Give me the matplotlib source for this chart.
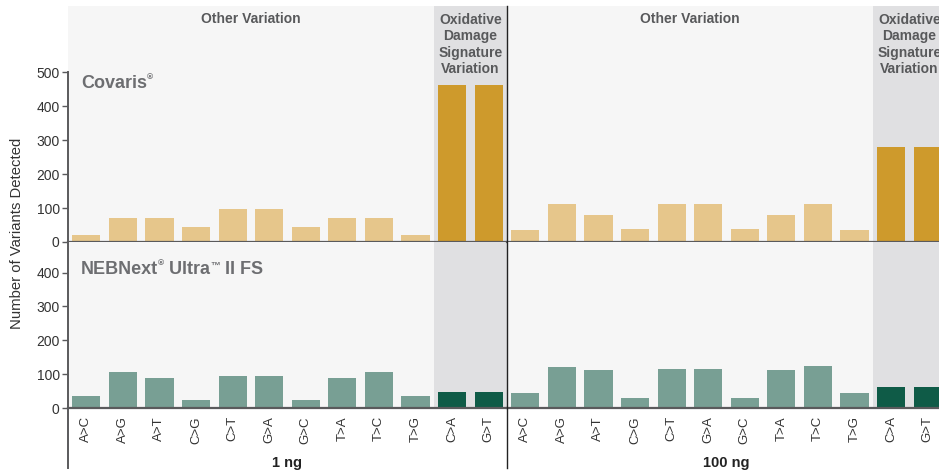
import matplotlib
matplotlib.use("Agg")
import matplotlib.pyplot as plt
from matplotlib.lines import Line2D
import numpy as np

plt.rcParams['font.family'] = ['Liberation Sans', 'DejaVu Sans']

categories = ["A>C", "A>G", "A>T", "C>G", "C>T", "G>A", "G>C", "T>A", "T>C", "T>G", "C>A", "G>T"]
covaris_1ng = [21, 71, 71, 45, 98, 98, 45, 71, 71, 21, 462, 462]
covaris_100ng = [36, 112, 80, 39, 112, 112, 39, 80, 112, 36, 280, 280]
neb_1ng = [34, 105, 88, 23, 96, 94, 23, 88, 105, 34, 46, 46]
neb_100ng = [43, 120, 111, 29, 114, 114, 29, 111, 123, 43, 61, 61]
input_labels = ["1 ng", "100 ng"]
top_ticks = [0, 100, 200, 300, 400, 500]
bottom_ticks = [0, 100, 200, 300, 400]

W, H = 939, 472
fig = plt.figure(figsize=(W / 100, H / 100), dpi=100)

def fx(px):
    return px / W

def fy(py):
    return 1 - py / H

x_left, x_mid, x_right = 68, 507, 946
y_top, y_mid, y_bot = 6, 242, 408
top_ylim = (y_mid - y_top) / 0.34
bot_ylim = (y_bot - y_mid) / 0.3385

light_bg = "#F6F6F6"
gray_bg = "#E0E0E2"
gold_light = "#E6C68B"
gold_dark = "#CE9A2C"
teal_light = "#789F94"
teal_dark = "#0F5B47"
axis_col = "#5A5A5C"
head_col = "#58595B"
brand_col = "#6D6E71"
tick_col = "#333333"

x = np.arange(len(categories))
bar_colors_top = [gold_light] * 10 + [gold_dark] * 2
bar_colors_bot = [teal_light] * 10 + [teal_dark] * 2

panels = [
    (x_left, covaris_1ng, neb_1ng),
    (x_mid, covaris_100ng, neb_100ng),
]

for i, (x0, top_vals, bot_vals) in enumerate(panels):
    w = fx(439)
    ax_t = fig.add_axes([fx(x0), fy(y_mid), w, (y_mid - y_top) / H])
    ax_b = fig.add_axes([fx(x0), fy(y_bot), w, (y_bot - y_mid) / H])
    for ax, vals, cols, ylim in ((ax_t, top_vals, bar_colors_top, top_ylim),
                                 (ax_b, bot_vals, bar_colors_bot, bot_ylim)):
        ax.set_facecolor(light_bg)
        ax.axvspan(9.5, 11.5, color=gray_bg, zorder=0, lw=0)
        ax.bar(x, vals, width=0.77, color=cols, zorder=2)
        ax.set_xlim(-0.5, 11.5)
        ax.set_ylim(0, ylim)
        ax.axhline(0, color=axis_col, lw=1.6, zorder=3, clip_on=False)
        for s in ("top", "right", "bottom"):
            ax.spines[s].set_visible(False)
        ax.set_xticks([])
        if i == 0:
            ax.spines["left"].set_color(axis_col)
            ax.spines["left"].set_linewidth(1.4)
            ax.tick_params(axis="y", direction="out", length=4, width=1.0,
                           color=axis_col, labelsize=10, labelcolor=tick_col, pad=2)
        else:
            ax.spines["left"].set_visible(False)
            ax.set_yticks([])
    if i == 0:
        ax_t.set_yticks(top_ticks)
        ax_t.spines["left"].set_bounds(0, 500)
        ax_b.set_yticks(bottom_ticks)
    for j, c in enumerate(categories):
        xp = ax_b.transData.transform((j, 0))[0]
        fig.text(xp / W, fy(416), c, rotation=90, ha="center", va="top",
                 fontsize=9.5, color=tick_col)
    fig.text(fx(x0 + 439 / 2), fy(463), input_labels[i],
             ha="center", va="center", fontsize=10.5, fontweight="bold", color="#222222")
    xo = ax_t.transData.transform((4.5, 0))[0]
    fig.text(xo / W, fy(19), "Other Variation", ha="center", va="center",
             fontsize=10, fontweight="bold", color=head_col)
    xd = ax_t.transData.transform((10.5, 0))[0]
    fig.text(xd / W, fy(44.5), "Oxidative\nDamage\nSignature\nVariation", ha="center",
             va="center", fontsize=10, fontweight="bold", color=head_col,
             linespacing=1.2)

fig.add_artist(Line2D([fx(x_left), fx(x_left)], [fy(y_bot), fy(468)], color=axis_col, lw=1.4))
fig.add_artist(Line2D([fx(x_mid), fx(x_mid)], [fy(y_top), fy(468)], color="#222222", lw=1.0))

fig.text(fx(17), fy(233), "Number of Variants Detected", rotation=90, ha="center",
         va="center", fontsize=10.7, color=tick_col)

fig.canvas.draw()
renderer = fig.canvas.get_renderer()

def chain(px, py, parts):
    cur = px / W
    for s, size, dy in parts:
        t = fig.text(cur, fy(py - dy), s, ha="left", va="baseline", fontsize=size,
                     fontweight="bold", color=brand_col)
        bb = t.get_window_extent(renderer=renderer)
        cur = bb.x1 / W

chain(81, 88, [("Covaris", 13, 0), ("®", 6, 9)])
chain(81, 274, [("NEBNext", 13, 0), ("®", 6, 9), (" Ultra", 13, 0), ("™", 7, 5), (" II FS", 13, 0)])

fig.savefig("out.png", dpi=100)
